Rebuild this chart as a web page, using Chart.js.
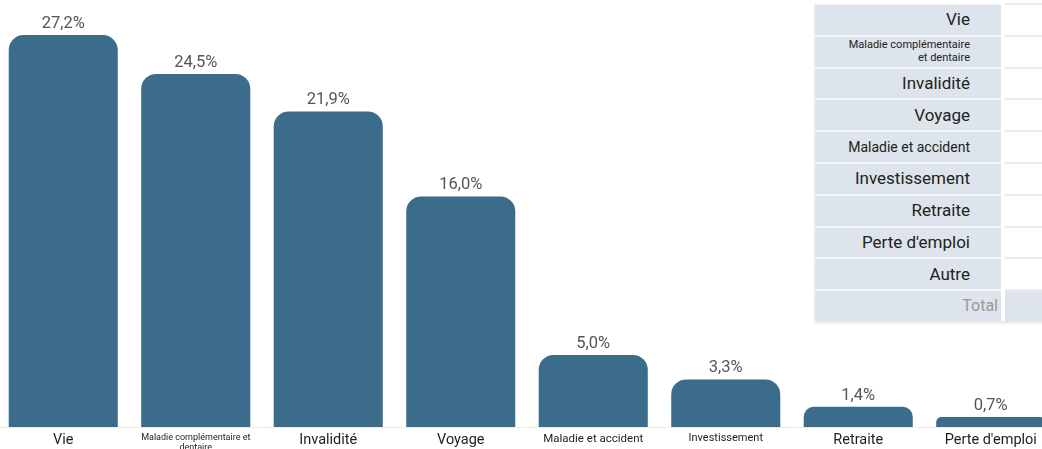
<!DOCTYPE html>
<html>
<head>
<meta charset="utf-8">
<script src="https://cdn.jsdelivr.net/npm/chart.js@4/dist/chart.umd.min.js"></script>
<style>
    html, body { margin: 0; padding: 0; background: #fff; overflow: hidden; }
    body { width: 1042px; height: 449px; position: relative; font-family: Roboto, "Noto Sans", sans-serif; }
    #zone { position: absolute; left: -3px; top: 0; width: 1060px; height: 449px; }
    #tableau { position: absolute; left: 815px; top: 0; width: 240px; box-shadow: 0 2px 3px rgba(0,0,0,0.12); }
    .ligne { display: flex; height: 31.8px; }
    .ligne .nom { width: 186px; padding-right: 31px; background: #dde4eb; border-top: 2px solid #f4f6f8; box-sizing: border-box;
        display: flex; align-items: center; justify-content: flex-end; text-align: right; color: #222; font-size: 17px; line-height: 1.15; }
    .ligne .val { flex: 1; margin-left: 4px; background: #fff; border-top: 2px solid #ececec; box-sizing: border-box; }
    .ligne.total .nom { padding-right: 3px; color: #9a9a9a; font-size: 16px; }
    .ligne.total .val { background: #dde4eb; }
</style>
</head>
<body>
<div id="zone"><canvas id="grafica"></canvas></div>
<div id="tableau"></div>
<script>
const categorias = ["Vie", ["Maladie complémentaire et", "dentaire"], "Invalidité", "Voyage", "Maladie et accident", "Investissement", "Retraite", "Perte d'emploi"];
const valores = [27.2, 24.5, 21.9, 16.0, 5.0, 3.3, 1.4, 0.7];
const filasTabla = ["Vie", ["Maladie complémentaire", "et dentaire"], "Invalidité", "Voyage", "Maladie et accident", "Investissement", "Retraite", "Perte d'emploi", "Autre"];
const filaTotal = "Total";

// tamaños de letra de las etiquetas del eje x y de la tabla
const tamanosEje = [14.5, 9, 14.5, 14.5, 11.5, 11, 14.5, 14.5];
const tamanosTabla = [17, 11, 17, 17, 14, 17, 17, 17, 17];

const azul = "rgb(59, 108, 139)";

const etiquetasValor = {
    id: "etiquetasValor",
    afterDatasetsDraw(chart) {
        const ctx = chart.ctx;
        const meta = chart.getDatasetMeta(0);
        ctx.save();
        ctx.font = "16.5px Roboto, 'Noto Sans', sans-serif";
        ctx.fillStyle = "#555";
        ctx.textAlign = "center";
        ctx.textBaseline = "bottom";
        meta.data.forEach((barra, i) => {
            const texto = valores[i].toFixed(1).replace(".", ",") + "%";
            ctx.fillText(texto, barra.x, barra.y - 3);
        });
        ctx.restore();
    },
};

const canvas = document.getElementById("grafica");
canvas.width = 1060;
canvas.height = 449;

new Chart(canvas, {
    type: "bar",
    data: {
        labels: categorias,
        datasets: [
            {
                data: valores,
                backgroundColor: azul,
                borderRadius: { topLeft: 15, topRight: 15 },
                barPercentage: 0.823,
                categoryPercentage: 1,
            },
        ],
    },
    options: {
        responsive: false,
        animation: false,
        layout: { padding: 0 },
        plugins: { legend: { display: false }, tooltip: { enabled: false } },
        scales: {
            x: {
                grid: { display: false, drawTicks: false },
                border: { display: true, color: "#ececec", width: 1 },
                ticks: {
                    color: "#1e1e1e",
                    padding: 5,
                    maxRotation: 0,
                    minRotation: 0,
                    autoSkip: false,
                    font: (c) => ({ family: "Roboto, 'Noto Sans', sans-serif", size: tamanosEje[c.index] || 14, lineHeight: 1.2 }),
                },
                afterFit: (escala) => { escala.height = 22; },
            },
            y: {
                display: false,
                min: 0,
                max: 29.63,
            },
        },
    },
    plugins: [etiquetasValor],
});

// tabla superpuesta
const tabla = document.getElementById("tableau");
filasTabla.concat([filaTotal]).forEach((fila, i) => {
    const linea = document.createElement("div");
    linea.className = "ligne" + (fila === filaTotal ? " total" : "");
    const nom = document.createElement("div");
    nom.className = "nom";
    if (Array.isArray(fila)) nom.innerHTML = fila.join("<br>");
    else nom.textContent = fila;
    if (tamanosTabla[i]) nom.style.fontSize = tamanosTabla[i] + "px";
    const val = document.createElement("div");
    val.className = "val";
    linea.appendChild(nom);
    linea.appendChild(val);
    tabla.appendChild(linea);
});
tabla.style.top = "3px";
</script>
</body>
</html>
